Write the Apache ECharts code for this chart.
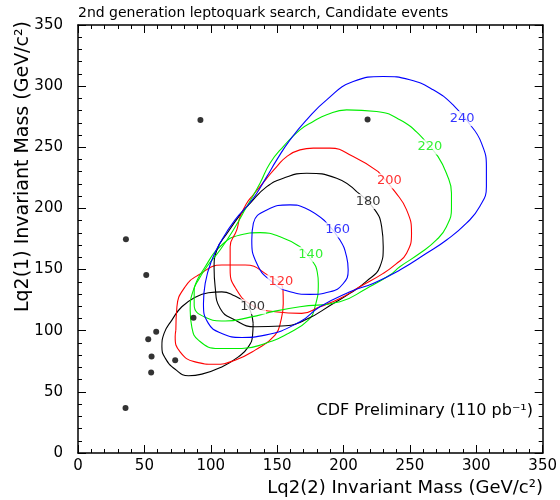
<!DOCTYPE html>
<html><head><meta charset="utf-8">
<script src="https://cdn.jsdelivr.net/npm/echarts/dist/echarts.min.js"></script>
<style>html,body{margin:0;padding:0;background:#fff}#c{width:560px;height:500px}</style>
</head><body><div id="c"></div>
<script>
// ---- data (GeV/c^2) ----
const titleText = '2nd generation leptoquark search, Candidate events';
const xTitle = 'Lq2(2) Invariant Mass (GeV/c\u00b2)';
const yTitle = 'Lq2(1) Invariant Mass (GeV/c\u00b2)';
const noteText = 'CDF Preliminary (110 pb\u207b\u00b9)';
const axisMin = 0, axisMax = 350, axisStep = 50;

const masses = [100, 120, 140, 160, 180, 200, 220, 240];

const c100 = [[131.9,106.2],[131.5,96.4],[128.3,86.8],[120.8,78.6],[108.3,70.4],[93.3,64.5],[83.2,63.2],[73.2,68.5],[65.7,77.6],[63.2,86.8],[64.9,98.0],[70.7,108.7],[78.2,119.6],[88.2,127.3],[98.2,131.0],[108.3,131.8],[118.3,128.3],[124.3,124.2],[129.6,116.9],[131.9,106.2]];
const c120 = [[73.7,100.5],[74.5,119.6],[80.7,135.9],[90.7,145.5],[108.3,153.7],[125.8,153.7],[140.9,146.9],[154.4,133.2],[154.6,122.3],[152.9,108.7],[148.4,96.4],[133.4,84.1],[118.3,75.9],[103.3,72.6],[88.2,74.5],[76.9,82.7],[73.2,95.0],[73.7,100.5]];
const c140 = [[167.2,168.7],[152.2,176.9],[137.1,180.2],[122.1,178.3],[108.3,170.1],[95.8,152.3],[86.9,133.2],[84.5,116.8],[85.7,103.2],[90.7,92.3],[105.8,85.5],[123.4,85.5],[140.9,89.6],[158.4,97.8],[173.4,108.7],[178.5,119.6],[181.0,138.7],[180.2,148.0],[177.0,156.2],[167.2,168.7]];
const c160 = [[186.0,189.7],[171.0,200.4],[159.7,202.9],[142.2,198.8],[132.1,187.9],[130.9,174.2],[134.6,155.1],[144.6,141.4],[159.7,131.8],[174.7,129.7],[189.8,131.8],[199.5,138.2],[203.5,149.6],[202.3,160.5],[197.3,174.2],[186.0,189.7]];
const c180 = [[209.9,213.7],[194.8,224.7],[172.2,228.8],[154.6,224.7],[142.2,217.8],[129.6,204.2],[122.1,194.7],[113.0,180.7],[104.6,166.0],[102.5,151.3],[103.3,135.9],[107.0,118.3],[118.3,108.7],[133.4,103.2],[153.4,103.8],[171.0,108.7],[192.3,122.3],[204.8,130.5],[217.4,140.6],[227.4,152.3],[229.9,168.7],[228.7,185.1],[223.6,198.8],[209.9,213.7]];
const c200 = [[226.1,230.1],[207.3,242.4],[189.8,249.3],[177.2,249.3],[167.2,247.9],[157.2,242.4],[149.7,234.2],[142.2,224.7],[131.9,211.0],[127.1,204.2],[122.1,193.3],[119.6,182.4],[114.6,168.7],[114.6,149.6],[119.6,133.2],[130.9,121.0],[148.4,115.5],[168.5,114.2],[182.2,119.6],[197.3,126.4],[212.3,135.9],[229.9,146.9],[239.4,154.5],[247.5,163.3],[251.2,179.7],[247.5,198.8],[238.7,213.7],[226.1,230.1]];
const c220 = [[271.2,242.4],[277.5,228.8],[281.3,212.4],[281.3,200.4],[277.5,185.1],[270.0,174.2],[257.5,163.3],[242.4,152.3],[234.9,145.5],[217.4,134.6],[197.3,123.7],[167.2,119.6],[148.4,116.0],[129.6,111.1],[110.8,107.9],[95.8,111.1],[87.5,121.0],[87.5,133.2],[90.7,141.4],[97.0,152.3],[107.0,166.0],[117.0,182.4],[127.1,201.5],[137.1,220.6],[144.6,237.0],[154.6,250.6],[167.2,264.3],[177.2,271.1],[187.3,276.6],[202.3,280.6],[224.9,279.3],[242.4,272.5],[258.0,259.4],[271.2,242.4]];
const c240 = [[296.4,267.0],[303.9,253.4],[307.6,234.2],[307.6,217.8],[302.6,201.5],[292.6,187.9],[277.6,174.2],[262.5,163.3],[242.4,149.6],[222.3,138.7],[204.8,131.8],[182.2,119.6],[167.2,107.3],[140.9,96.4],[123.4,94.5],[108.3,97.8],[98.2,106.0],[94.5,122.3],[95.8,138.7],[100.8,157.8],[108.3,174.2],[118.3,190.6],[131.1,206.9],[142.2,226.0],[149.7,239.7],[159.7,256.1],[172.2,272.5],[187.3,288.8],[207.3,303.8],[229.9,307.9],[249.9,305.2],[267.5,297.0],[282.5,284.7],[296.4,267.0]];
const contours = [c100, c120, c140, c160, c180, c200, c220, c240];

const labelPos = [[131.5,119.6],[152.8,140.0],[175.3,162.5],[195.6,182.4],[218.6,205.6],[234.5,222.5],[265.0,250.2],[289.3,273.5]];

const events = [[92.2,272.3],[218.1,272.7],[36.1,174.7],[51.4,145.5],[58.9,99.1],[52.9,93.1],[55.4,78.9],[55.1,65.8],[73.2,75.9],[87.0,110.6],[35.8,36.9]];

// ---- styles ----
const palette = ['#000000', '#ff0000', '#00ee00', '#0000ff'];
const FONT = 'DejaVu Sans';

const chart = echarts.init(document.getElementById('c'), null, {renderer: 'canvas'});

function axisCommon(showLabel, isX) {
  return {
    type: 'value', min: axisMin, max: axisMax, interval: axisStep,
    axisLine: {show: true, onZero: false, lineStyle: {color: '#000', width: 1.5}},
    axisTick: {show: true, inside: true, length: 8, lineStyle: {color: '#000', width: 1}},
    minorTick: {show: true, splitNumber: 5, length: 4, lineStyle: {color: '#000', width: 1}},
    splitLine: {show: false}, minorSplitLine: {show: false},
    axisLabel: {show: showLabel, color: '#000', fontSize: 15, fontFamily: FONT, margin: isX ? 6 : 15}
  };
}

const series = [];
contours.forEach((pts, i) => {
  series.push({
    type: 'line', data: pts, showSymbol: false, smooth: 0.5, silent: true,
    lineStyle: {color: palette[i % 4], width: 1.1}, z: 3, animation: false
  });
});
series.push({
  type: 'scatter', data: events, symbol: 'circle', symbolSize: 6,
  itemStyle: {color: '#000'}, z: 5, animation: false
});
series.push({
  type: 'scatter', symbol: 'circle', symbolSize: 2, itemStyle: {color: 'rgba(255,255,255,0)'}, z: 10, animation: false,
  data: labelPos.map((p, i) => ({
    value: p,
    label: {show: true, position: 'inside', formatter: String(masses[i]),
      color: palette[i % 4], fontSize: 13, fontWeight: i % 4 === 0 ? 'normal' : 500, fontFamily: FONT,
      backgroundColor: '#fff', padding: [1, 1]}
  }))
});

chart.setOption({
  backgroundColor: '#fff',
  animation: false,
  grid: {left: 78, right: 17, top: 25, bottom: 47, containLabel: false},
  xAxis: [Object.assign(axisCommon(true, true), {position: 'bottom'}),
          Object.assign(axisCommon(false, true), {position: 'top'})],
  yAxis: [Object.assign(axisCommon(true, false), {position: 'left'}),
          Object.assign(axisCommon(false, false), {position: 'right'})],
  series: series,
  graphic: [
    {type: 'text', x: 78, y: 13, style: {text: titleText, x: 0, y: 0, fontSize: 14, fontFamily: FONT, fill: '#000', align: 'left', verticalAlign: 'middle', textAlign: 'left', textVerticalAlign: 'middle'}},
    {type: 'text', x: 543, y: 488, style: {text: xTitle, x: 0, y: 0, fontSize: 18, fontFamily: FONT, fill: '#000', align: 'right', verticalAlign: 'middle', textAlign: 'right', textVerticalAlign: 'middle'}},
    {type: 'text', x: 23, y: 21, rotation: Math.PI / 2, style: {text: yTitle, x: 0, y: 0, fontSize: 19, fontFamily: FONT, fill: '#000', align: 'right', verticalAlign: 'middle', textAlign: 'right', textVerticalAlign: 'middle'}},
    {type: 'text', x: 533, y: 411, style: {text: noteText, x: 0, y: 0, fontSize: 16, fontFamily: FONT, fill: '#000', align: 'right', verticalAlign: 'middle', textAlign: 'right', textVerticalAlign: 'middle'}}
  ]
});
</script>
</body></html>
